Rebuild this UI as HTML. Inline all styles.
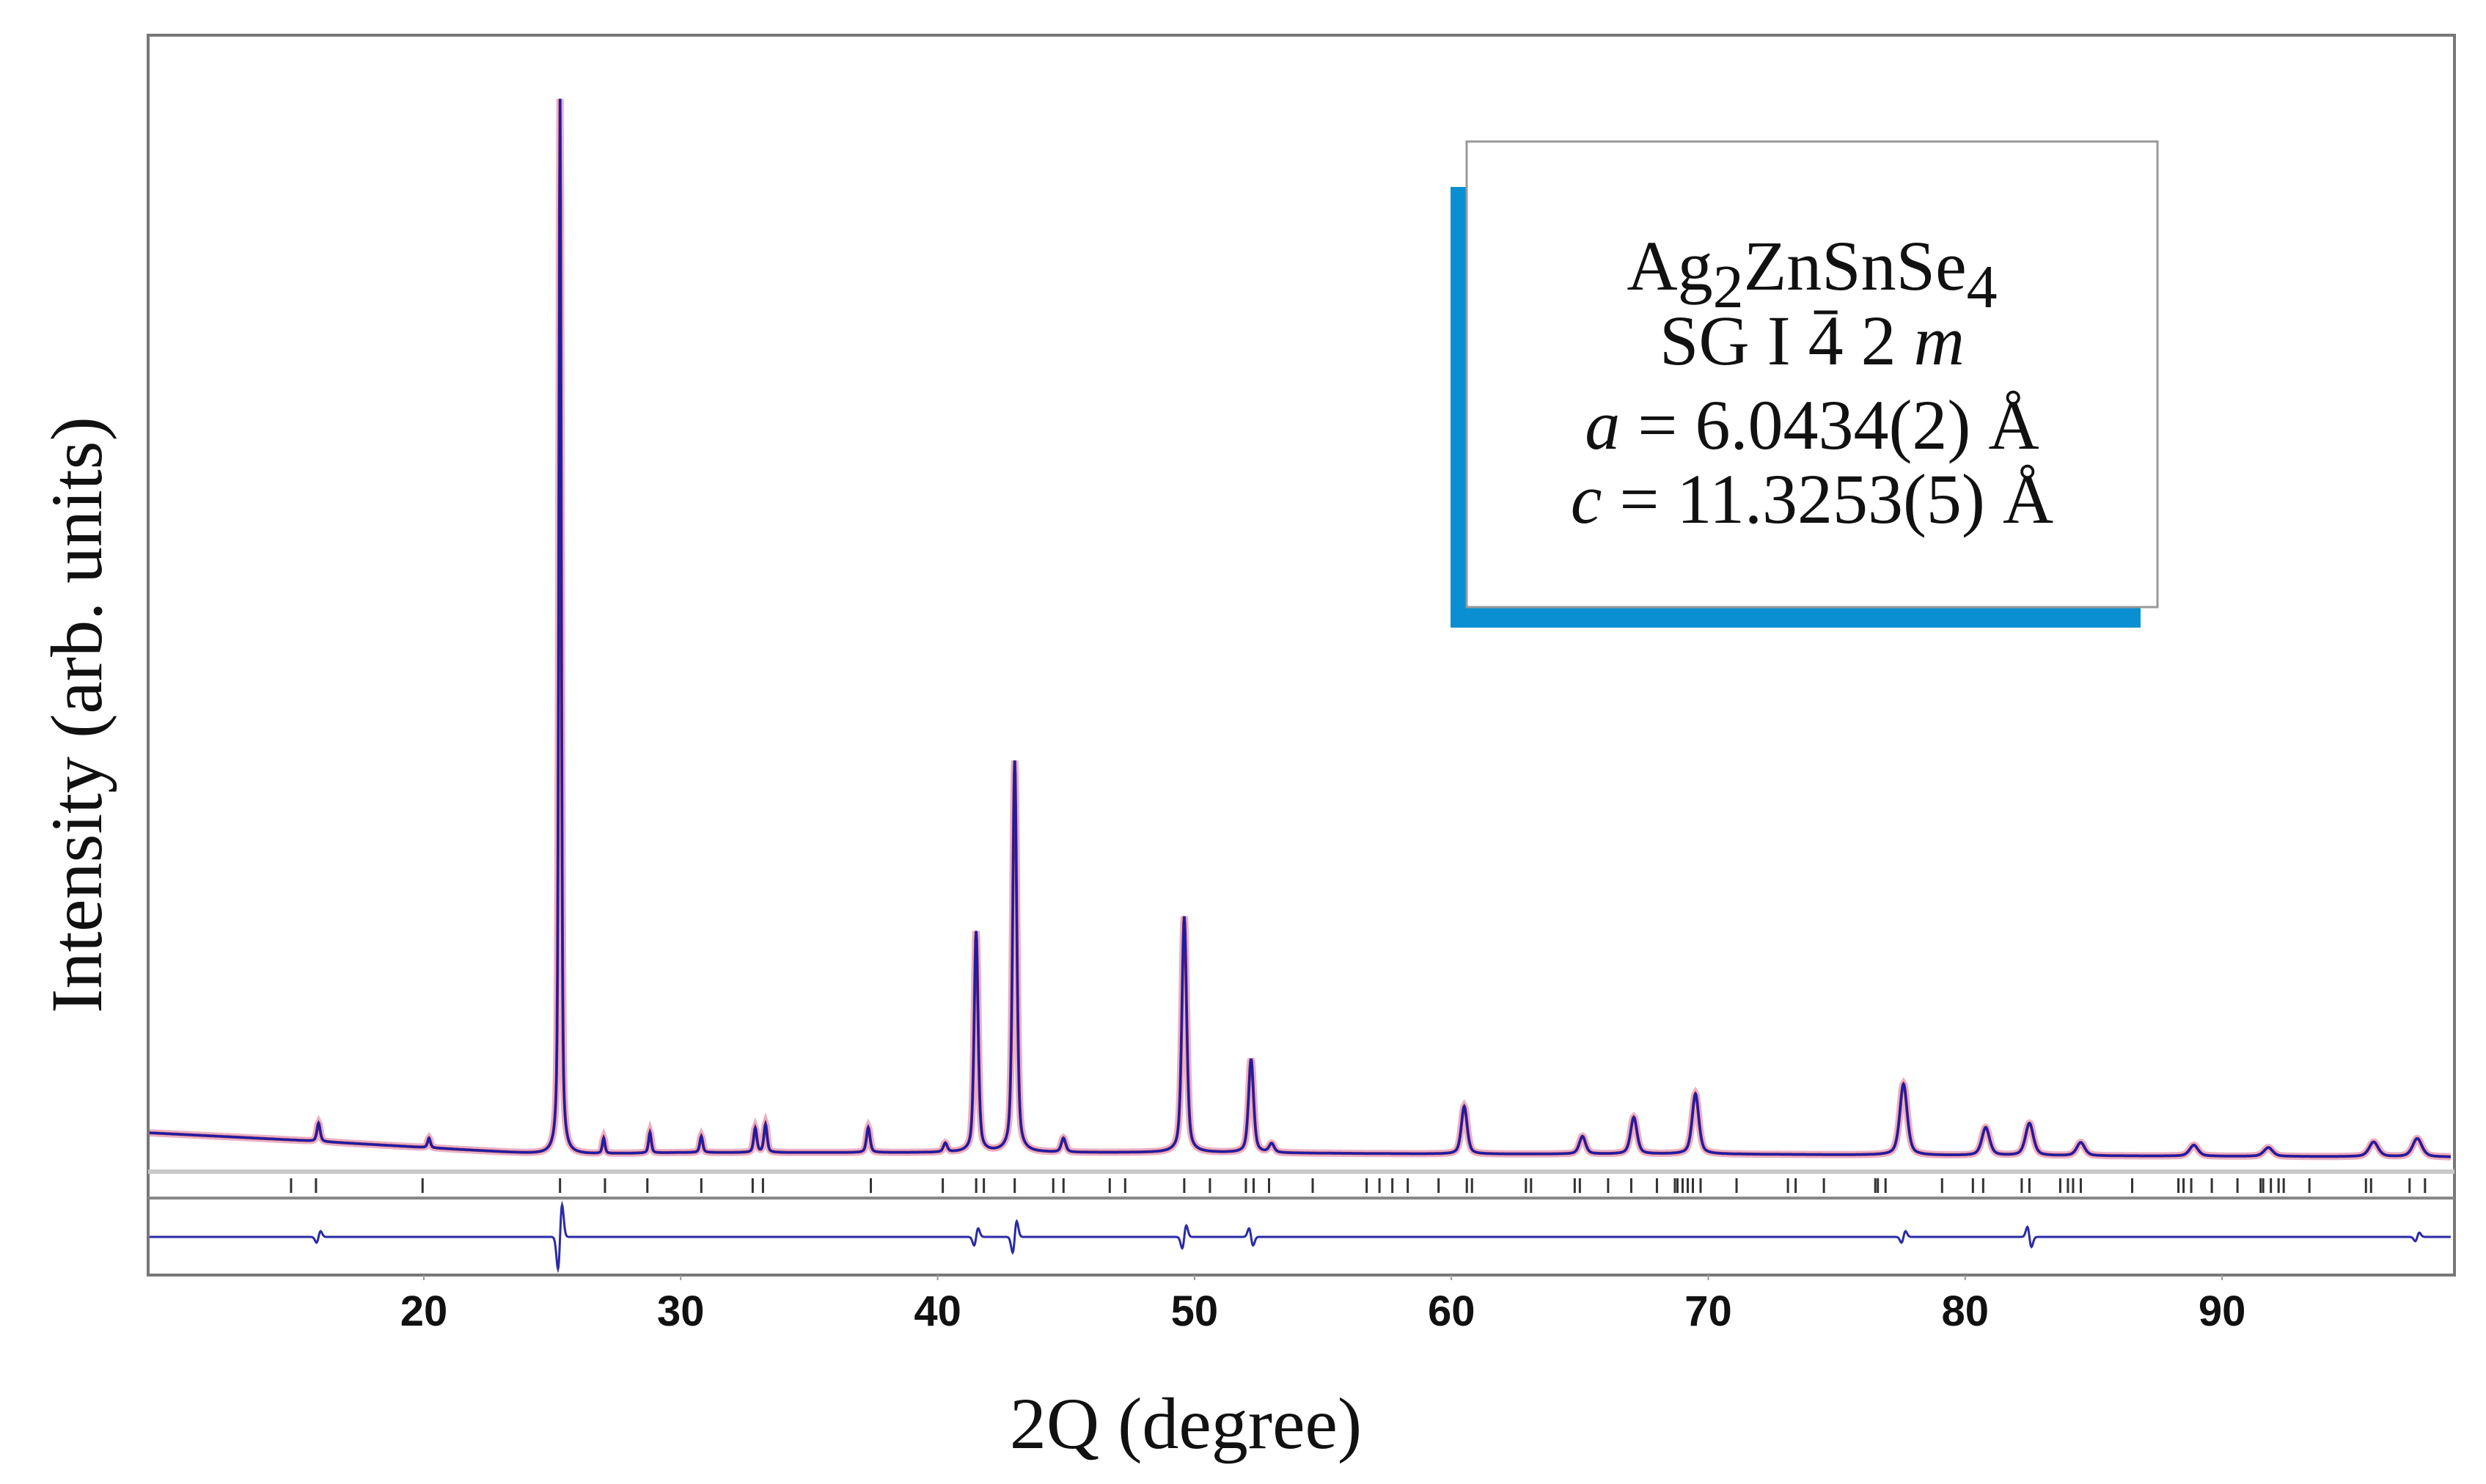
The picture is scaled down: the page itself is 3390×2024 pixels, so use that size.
<!DOCTYPE html>
<html><head><meta charset="utf-8"><style>
html,body{margin:0;padding:0;background:#fff;}
svg{display:block;}
</style></head><body>
<svg id="chart" width="3390" height="2024" viewBox="0 0 3390 2024" xmlns="http://www.w3.org/2000/svg">
<rect width="3390" height="2024" fill="#fff"/>
<g id="plot"></g>
<rect x="202" y="48" width="3145" height="1691" fill="none" stroke="#777" stroke-width="4"/>
<line x1="202" y1="1598" x2="3347" y2="1598" stroke="#c8c8c8" stroke-width="6"/>
<line x1="202" y1="1634" x2="3347" y2="1634" stroke="#888" stroke-width="4"/>
<g id="xticks"></g>
<text x="1617" y="1975" font-family="Liberation Serif, serif" font-size="100" text-anchor="middle" fill="#111">2Q (degree)</text>
<text transform="translate(138,975) rotate(-90)" font-family="Liberation Serif, serif" font-size="100" text-anchor="middle" fill="#111">Intensity (arb. units)</text>
<g>
<rect x="1978" y="255" width="941" height="601" fill="#0a8fd2"/>
<rect x="2000" y="193" width="942" height="635" fill="#fff" stroke="#999" stroke-width="3"/>
<g font-family="Liberation Serif, serif" font-size="96" fill="#111" text-anchor="middle">
<text x="2471" y="395">Ag<tspan font-size="84" dy="24">2</tspan><tspan dy="-24">ZnSnSe</tspan><tspan font-size="84" dy="24">4</tspan></text>
<text x="2471" y="497">SG  I <tspan id="four">4</tspan> 2 <tspan font-style="italic">m</tspan></text>
<text x="2471" y="612"><tspan font-style="italic">a</tspan> = 6.0434(2)  Å</text>
<text x="2471" y="713"><tspan font-style="italic">c</tspan> = 11.3253(5)  Å</text>
</g>
<line id="fourbar" x1="2480" y1="426" x2="2510" y2="426" stroke="#111" stroke-width="5"/>
</g>
</svg>
<script>
const peakPos=[15.9,20.2,25.3,27.0,28.8,30.8,32.9,33.3,37.3,40.3,41.5,43.0,44.9,49.6,52.2,53.0,60.5,65.1,67.1,69.5,77.6,80.8,82.5,84.5,88.9,91.8,95.9,97.6];
const peakInt=[25,13,1440,21,28,22,33,38,34,12,301,534,19,322,128,12,65,24,50,82,97,38,44,18,15,12,20,25];
const bgDeg=[9.3,15,20,25,30,40,50,60,70,80,90,98.9];
const bgVal=[35,25,15,5,8,8,8,6,6,4,3,2];
const reflPos=[14.83,15.8,19.95,25.3,27.05,28.7,30.8,32.8,33.2,37.4,40.2,41.5,41.8,43.0,44.5,44.9,46.7,47.3,49.6,50.6,52.0,52.3,52.9,54.6,56.7,57.2,57.7,58.3,59.5,60.6,60.8,62.9,63.1,64.8,65.0,66.1,67.0,68.0,68.7,68.8,69.0,69.2,69.4,69.7,71.1,73.1,73.4,74.5,76.5,76.6,76.9,79.1,80.3,80.7,82.2,82.5,83.7,84.0,84.2,84.5,86.5,88.3,88.5,88.8,89.6,90.6,91.5,91.6,91.9,92.2,92.4,93.4,95.6,95.8,97.3,97.9];
const diffPos=[15.9,25.3,41.5,43.0,49.6,52.2,77.6,82.5,97.6];
const diffAmp=[8,45,12,22,16,-12,8,-14,6];
const xTicks=[20,30,40,50,60,70,80,90];
const xMin=9.3,xMax=98.9;
const X=v=>578+35.03*(v-20);
const baseY=1580;
const Y=i=>baseY-i;
const ns="http://www.w3.org/2000/svg";
function mk(t,a,p){const e=document.createElementNS(ns,t);for(const k in a)e.setAttribute(k,a[k]);p.appendChild(e);return e;}
function bg(v){for(let i=0;i<bgDeg.length-1;i++){if(v<=bgDeg[i+1]){const t=(v-bgDeg[i])/(bgDeg[i+1]-bgDeg[i]);return bgVal[i]+t*(bgVal[i+1]-bgVal[i]);}}return bgVal[bgVal.length-1];}
function prof(v){let s=bg(v);for(let i=0;i<peakPos.length;i++){const w=0.055+0.0022*Math.abs(peakPos[i]-25);const d=(v-peakPos[i])/w;s+=peakInt[i]*(0.5/(1+d*d)+0.5*Math.exp(-0.693*d*d));}return s;}
function diff(v){let s=0;for(let i=0;i<diffPos.length;i++){const w=0.08;const d=(v-diffPos[i])/w;s+=diffAmp[i]*d*Math.exp(-0.5*d*d)*1.6;}return s;}
const plot=document.getElementById('plot');
let pc="",pd="";
for(let v=xMin;v<=xMax;v+=0.02){const x=X(v).toFixed(1);pc+=(pc?"L":"M")+x+","+Y(prof(v)).toFixed(1);pd+=(pd?"L":"M")+x+","+(1687-diff(v)).toFixed(1);}
const obs=mk('path',{d:pc,fill:'none',stroke:'#e07a9c','stroke-width':10,'stroke-opacity':0.6},plot);


const obs2=mk('path',{d:pc,fill:'none',stroke:'#8a2a4a','stroke-width':4},plot);


const calc=mk('path',{d:pc,fill:'none',stroke:'#1c1ca8','stroke-width':3},plot);


const dl=mk('path',{d:pd,fill:'none',stroke:'#2a2aa8','stroke-width':3},plot);


reflPos.forEach(p=>{const l=mk('line',{x1:X(p),x2:X(p),y1:1607,y2:1627,stroke:'#333','stroke-width':3},plot);

});
const xt=document.getElementById('xticks');
xTicks.forEach(t=>{const m=mk('line',{x1:X(t),x2:X(t),y1:1739,y2:1746,stroke:'#999','stroke-width':2},xt);


const tx=mk('text',{x:X(t),y:1808,'font-family':'Liberation Sans, sans-serif','font-size':58,'font-weight':'bold','text-anchor':'middle',fill:'#111'},xt);
tx.textContent=t;

});
try{const f=document.getElementById('four');const n=f.getNumberOfChars?f.getNumberOfChars():1;const s=f.getStartPositionOfChar(0).x;const e=f.getEndPositionOfChar(0).x;const b=document.getElementById('fourbar');b.setAttribute('x1',s+8);b.setAttribute('x2',e-8);}catch(err){}
</script>
</body></html>
